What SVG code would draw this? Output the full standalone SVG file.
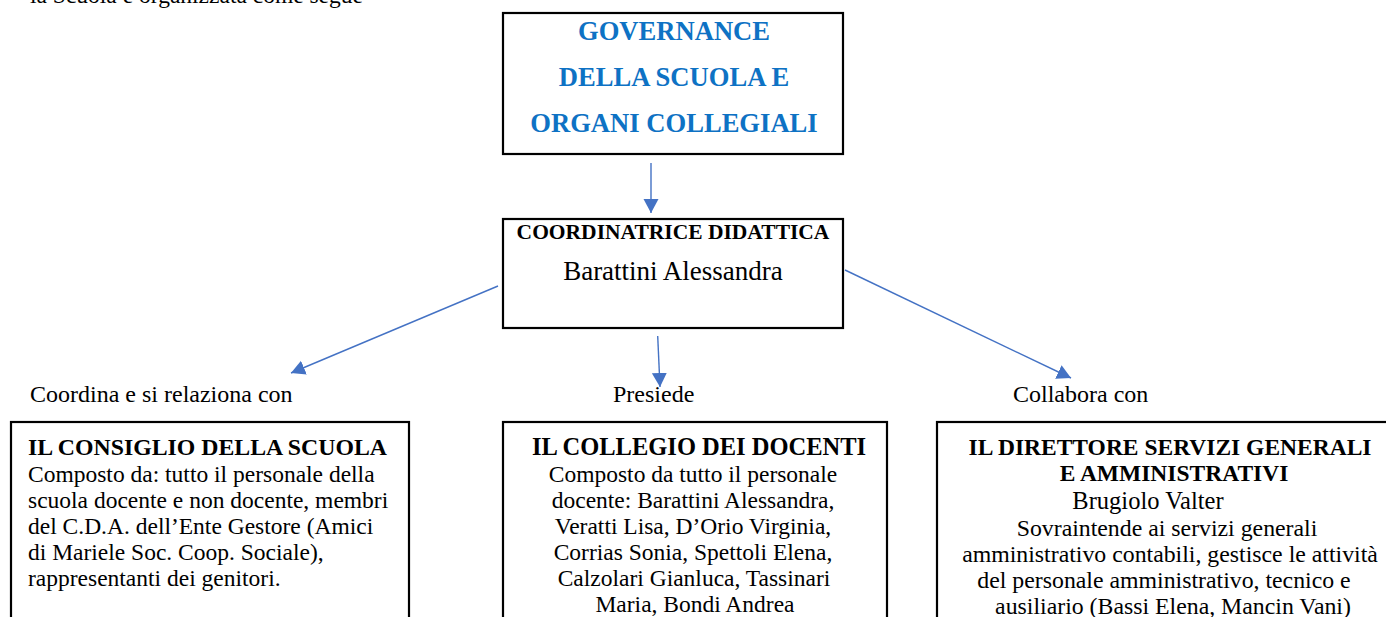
<svg xmlns="http://www.w3.org/2000/svg" width="1386" height="617" viewBox="0 0 1386 617">
<defs>
<style>
.box{fill:#fff;stroke:#000;stroke-width:2.2}
.t{font-family:"Liberation Serif","Times New Roman",serif;fill:#000}
.b{font-weight:bold}
.blue{fill:#0E72C4;font-weight:bold;font-size:26.6px}
.s{font-size:23.5px}
.c{text-anchor:middle}
.conn{stroke:#4472C4;stroke-width:1.4;fill:none;marker-end:url(#ah)}
</style>
<marker id="ah" markerUnits="userSpaceOnUse" markerWidth="15" markerHeight="16" refX="14" refY="7.5" orient="auto" viewBox="0 0 15 15">
<path d="M0,0 L14,7.5 L0,15 z" fill="#4472C4"/>
</marker>
</defs>
<rect width="1386" height="617" fill="#fff"/>
<text class="t s" x="30" y="3">la Scuola è organizzata come segue</text>

<g id="governance">
<rect class="box" x="503" y="13" width="340" height="141"/>
<text class="t blue c" x="674" y="40">GOVERNANCE</text>
<text class="t blue c" x="674" y="86">DELLA SCUOLA E</text>
<text class="t blue c" x="674" y="132">ORGANI COLLEGIALI</text>
</g>

<g id="coordinatrice">
<rect class="box" x="503" y="219" width="340" height="109"/>
<text class="t b c" x="673" y="239" font-size="21.5">COORDINATRICE DIDATTICA</text>
<text class="t c" x="673" y="280" font-size="27">Barattini Alessandra</text>
</g>

<g id="connectors">
<line class="conn" x1="651" y1="163" x2="651" y2="213"/>
<line class="conn" x1="657.7" y1="336" x2="660" y2="387"/>
<line class="conn" x1="498" y1="286" x2="291" y2="373"/>
<line class="conn" x1="845" y1="270" x2="1071" y2="378"/>
</g>

<g id="labels">
<text class="t" x="30" y="402" font-size="24">Coordina e si relaziona con</text>
<text class="t" x="613" y="402" font-size="24">Presiede</text>
<text class="t" x="1013" y="402" font-size="24">Collabora con</text>
</g>

<g id="consiglio">
<rect class="box" x="11" y="422" width="398" height="230"/>
<text class="t s" x="28" y="455"><tspan class="b" font-size="23.8">IL CONSIGLIO DELLA SCUOLA</tspan><tspan x="28" dy="26.5">Composto da: tutto il personale della</tspan><tspan x="28" dy="26">scuola docente e non docente, membri</tspan><tspan x="28" dy="26">del C.D.A. dell’Ente Gestore (Amici</tspan><tspan x="28" dy="26">di Mariele Soc. Coop. Sociale),</tspan><tspan x="28" dy="26">rappresentanti dei genitori.</tspan></text>
</g>

<g id="collegio">
<rect class="box" x="503" y="422" width="384" height="230"/>
<text class="t c" x="699" y="455" font-weight="bold" font-size="24.5">IL COLLEGIO DEI DOCENTI</text>
<text class="t s c" x="693" y="482">Composto da tutto il personale<tspan x="693" dy="26">docente: Barattini Alessandra,</tspan><tspan x="693" dy="26">Veratti Lisa, D’Orio Virginia,</tspan><tspan x="693" dy="26">Corrias Sonia, Spettoli Elena,</tspan><tspan x="694" dy="26">Calzolari Gianluca, Tassinari</tspan><tspan x="695" dy="26">Maria, Bondi Andrea</tspan></text>
</g>

<g id="direttore">
<rect class="box" x="937" y="422" width="470" height="230"/>
<text class="t s c b" x="1170" y="455">IL DIRETTORE SERVIZI GENERALI<tspan x="1174" dy="26">E AMMINISTRATIVI</tspan></text>
<text class="t c" x="1148" y="509" font-size="24.5">Brugiolo Valter</text>
<text class="t c" x="1167" y="536" font-size="23.8">Sovraintende ai servizi generali<tspan x="1170" dy="26">amministrativo contabili, gestisce le attività</tspan><tspan x="1164" dy="26">del personale amministrativo, tecnico e</tspan><tspan x="1173" dy="26">ausiliario (Bassi Elena, Mancin Vani)</tspan></text>
</g>
</svg>
